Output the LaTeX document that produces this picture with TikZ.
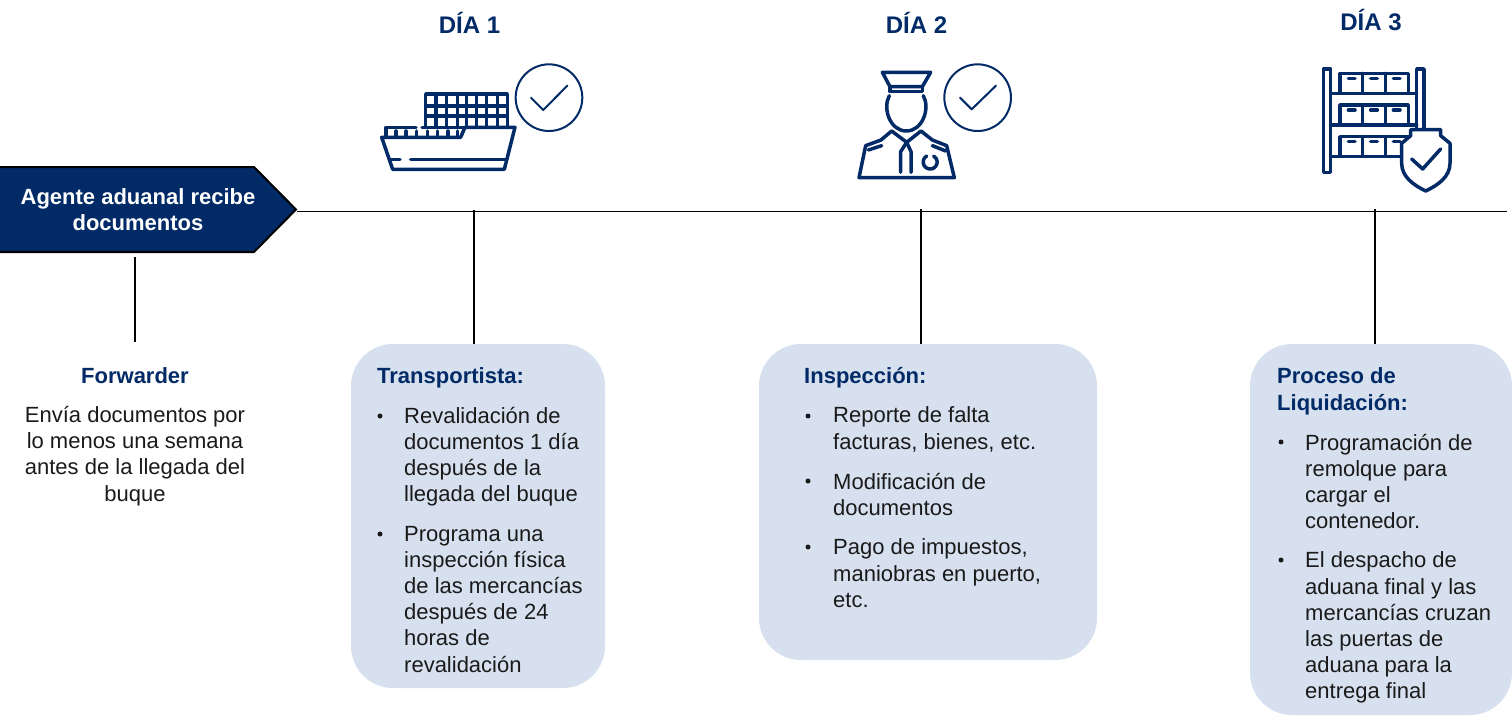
\documentclass[tikz,border=0pt]{standalone}
\usepackage{fontspec}
\setmainfont{Liberation Sans}
\definecolor{navy}{HTML}{012A66}
\definecolor{panel}{HTML}{D6E0EE}
\definecolor{ink}{HTML}{1A1A1A}
\newcommand{\linestrut}{\rule{0pt}{18.34pt}}
\tikzset{
  bodyfont/.style={font=\fontsize{22}{26.2}\selectfont},
  para/.style={bodyfont,text=ink,anchor=north west,yshift=18.34pt,inner sep=0pt,align=left,execute at begin node={\linestrut}},
  centered/.style={bodyfont,text=ink,anchor=north,yshift=18.34pt,inner sep=0pt,align=center,execute at begin node={\linestrut}},
  heading/.style={para,text=navy,font=\fontsize{22}{26.2}\selectfont\bfseries},
  dayhead/.style={text=navy,font=\fontsize{24}{28}\selectfont\bfseries,anchor=base,inner sep=0pt},
  bulletdot/.style={circle,fill=ink,inner sep=0pt,minimum size=5pt},
  panelbox/.style={fill=panel,draw=none,rounded corners=42pt},
  rule/.style={draw=black,line width=1.3pt},
  timeline/.style={draw=black,line width=1pt},
  iconline/.style={draw=navy,line width=3.5pt,line cap=round,line join=round},
  iconthin/.style={draw=navy,line width=2pt,line cap=round,line join=round},
}
\begin{document}
\begin{tikzpicture}[x=1pt,y=-1pt]
\useasboundingbox (0,0) rectangle (1512,717);

% panels
\path[panelbox] (351,344) rectangle (605,688);
\path[panelbox] (759,344) rectangle (1097,660);
\path[panelbox] (1250,344) rectangle (1512,715);
\coordinate (boxA) at (474,344);
\coordinate (boxB) at (921,344);
\coordinate (boxC) at (1375,344);

% timeline
\coordinate (lineEnd) at (1507,211);
\draw[timeline] (297,211) -- (lineEnd);
\coordinate (tickA) at (474,210);
\coordinate (tickB) at (921,209);
\coordinate (tickC) at (1375,209);
\draw[rule] (tickA) -- (boxA);
\draw[rule] (tickB) -- (boxB);
\draw[rule] (tickC) -- (boxC);
\coordinate (fwdTop) at (135,257);
\coordinate (fwdEnd) at (135,342);
\draw[rule] (fwdTop) -- (fwdEnd);

% arrow box
\draw[fill=navy,draw=black,line width=2pt,line join=miter] (-2,167) -- (254,167) -- (296,209.5) -- (254,252) -- (-2,252) -- cycle;
\node[centered,text=white,font=\fontsize{22}{26.2}\selectfont\bfseries] (agent) at (138,206.5) {Agente aduanal recibe\\documentos};

% day titles
\node[dayhead] (d1) at (469.5,34) {DÍA 1};
\node[dayhead] (d2) at (916.5,34) {DÍA 2};
\node[dayhead] (d3) at (1371,31) {DÍA 3};

% forwarder
\node[centered,text=navy,font=\fontsize{22}{26.2}\selectfont\bfseries] (fwd) at (135,383) {Forwarder};
\node[centered] (fwdtext) at (135,424.5) {Envía documentos por\\lo menos una semana\\antes de la llegada del\\buque};

% transportista
\node[heading] (t0) at (377,383) {Transportista:};
\node[bulletdot] at (380,416) {};
\node[para] (t1) at (404,425) {Revalidación de\\documentos 1 día\\después de la\\llegada del buque};
\node[bulletdot] at (380,534) {};
\node[para] (t2) at (404,544) {Programa una\\inspección física\\de las mercancías\\después de 24\\horas de\\revalidación};

% inspeccion
\node[heading] (i0) at (804,383) {Inspección:};
\node[bulletdot] at (808,416) {};
\node[para] (i1) at (833,425) {Reporte de falta\\facturas, bienes, etc.};
\node[bulletdot] at (808,481) {};
\node[para] (i2) at (833,491) {Modificación de\\documentos};
\node[bulletdot] at (808,547) {};
\node[para] (i3) at (833,557) {Pago de impuestos,\\maniobras en puerto,\\etc.};

% liquidacion
\node[heading] (l0) at (1277,386) {Proceso de\\Liquidación:};
\node[bulletdot] at (1281,442) {};
\node[para] (l1) at (1305,452) {Programación de\\remolque para\\cargar el\\contenedor.};
\node[bulletdot] at (1281,560) {};
\node[para] (l2) at (1305,570) {El despacho de\\aduana final y las\\mercancías cruzan\\las puertas de\\aduana para la\\entrega final};

% ship icon
\begin{scope}[shift={(370,50)},x=0.3333pt,y=-0.3333pt]
  \draw[iconline] (35,262) -- (272,262) -- (285,232) -- (435,232) -- (403,358) -- (68,358) -- cycle;
  \draw[iconline] (122,328) -- (405,328);
  \draw[iconline] (62,328) -- (90,328);
  \draw[iconline] (48,262) -- (48,232) -- (138,232);
  \draw[iconline] (156,232) -- (285,232);
  \foreach \x in {78,108,140,172,202,234,262} \draw[iconline] (\x,243) -- (\x,262);
  \draw[iconline] (167,232) -- (167,132) -- (412,132) -- (412,232);
  \draw[iconline] (167,168) -- (412,168);
  \draw[iconline] (167,198) -- (412,198);
  \foreach \x in {198,230,262,290,320,350,382} \draw[iconline] (\x,132) -- (\x,232);
  \draw[iconthin] (537,143) circle[radius=100];
  \draw[iconthin] (483,143) -- (520,180) -- (592,107);
\end{scope}

% officer icon
\begin{scope}[shift={(845,55)},x=0.3333pt,y=-0.3333pt]
  \draw[iconline] (112,52) -- (257,52) -- (232,95) -- (135,95) -- cycle;
  \draw[iconline] (135,95) -- (135,110) -- (232,110) -- (232,95);
  \draw[iconline] (133,122) .. controls (112,160) and (135,228) .. (184,228) .. controls (233,228) and (256,160) .. (235,122);
  \draw[iconline] (42,368) -- (62,272) -- (108,255) -- (140,228) -- (185,262) -- (228,228) -- (262,255) -- (305,272) -- (328,368) -- cycle;
  \draw[iconline] (185,262) -- (167,290) -- (167,352);
  \draw[iconline] (185,262) -- (198,290) -- (198,352);
  \draw[iconline] (70,285) -- (110,272);
  \draw[iconline] (262,272) -- (302,288);
  \draw[iconline] (245,303) arc[start angle=-120,delta angle=-300,radius=21];
  \draw[iconthin] (398,128) circle[radius=100];
  \draw[iconthin] (345,128) -- (380,163) -- (453,92);
\end{scope}

% warehouse icon
\begin{scope}[shift={(1310,55)},x=0.3333pt,y=-0.3333pt]
  \draw[iconline] (40,42) rectangle (62,352);
  \draw[iconline] (320,225) -- (320,42) -- (342,42) -- (342,225);
  \draw[iconline] (62,115) -- (320,115);
  \draw[iconline] (62,210) -- (320,210);
  \draw[iconline] (62,305) -- (290,305);
  \foreach \y in {55,150,245} {
    \draw[iconline] (90,\y+57) -- (90,\y) -- (295,\y) -- (295,\y+57);
    \draw[iconline] (158,\y) -- (158,\y+57);
    \draw[iconline] (226,\y) -- (226,\y+57);
    \draw[iconline] (115,\y+15) -- (135,\y+15);
    \draw[iconline] (182,\y+15) -- (202,\y+15);
    \draw[iconline] (250,\y+15) -- (270,\y+15);
  }
  \draw[iconline,fill=white] (302,224) -- (392,224) -- (392,242) -- (420,265) -- (420,325) .. controls (420,365) and (385,390) .. (347,408) .. controls (310,390) and (275,365) .. (275,325) -- (275,265) -- (302,242) -- cycle;
  \draw[iconline] (305,312) -- (338,342) -- (392,282);
\end{scope}
\end{tikzpicture}
\end{document}
